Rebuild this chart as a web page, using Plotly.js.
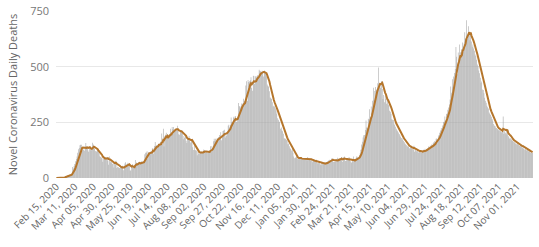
<!DOCTYPE html>
<html>
<head>
<meta charset="utf-8">
<script src="https://cdn.plot.ly/plotly-3.0.1.min.js"></script>
<style>html,body{margin:0;padding:0;background:#fff;}#chart{width:539px;height:247px;}</style>
</head>
<body>
<div id="chart"></div>
<script>
// Daily deaths, first day = Feb 15, 2020
const startDate = '2020-02-15';
const feb20 = [0,0,0,0,2,0,2,1,3,4,4,3,7,8,9];
const mar20 = [11,12,11,15,15,16,21,49,43,54,63,75,85,97,113,129,135,147,149,149,123,129,127,122,143,157,144,139,123,117,141];
const apr20 = [138,124,134,158,151,136,133,121,117,122,125,117,111,98,94,92,89,73,87,91,88,94,90,93,76,60,96,71,80,71];
const may20 = [63,74,47,68,74,78,45,51,48,45,45,48,50,48,55,35,51,65,71,62,51,69,56,58,34,34,57,63,50,47,57];
const jun20 = [81,64,70,59,72,63,63,70,74,75,71,75,71,107,113,115,120,87,116,115,116,119,121,133,134,109,144,162,144,147];
const jul20 = [148,141,154,148,163,160,200,153,221,142,188,194,203,179,195,183,195,188,221,203,229,219,229,215,216,212,216,235,212,196,194];
const aug20 = [208,206,215,212,174,189,181,187,167,157,177,171,189,169,159,168,162,138,126,146,126,125,124,102,119,110,108,115,119,118,113];
const sep20 = [117,128,126,114,116,118,113,116,119,124,143,119,144,134,165,176,166,176,163,179,177,184,193,175,206,170,187,211,213,217];
const oct20 = [182,202,190,207,235,239,227,239,272,251,253,272,276,254,279,253,251,271,337,322,322,317,335,322,335,356,346,346,415,434,346];
const nov20 = [440,431,434,439,452,404,392,459,458,422,457,451,457,461,454,486,482,479,474,482,475,456,483,469,475,457,420,413,410,390];
const dec20 = [362,358,355,340,321,324,321,313,303,289,268,262,254,251,221,227,213,210,199,177,178,175,172,168,152,155,143,134,130,124,134];
const jan21 = [115,96,89,90,94,102,85,84,88,93,89,89,81,85,84,87,84,90,89,79,94,85,84,81,79,85,71,77,79,78,73];
const feb21 = [72,82,66,69,66,69,62,57,73,64,64,61,71,61,69,71,75,79,77,82,80,88,78,89,72,73,74,75];
const mar21 = [85,91,82,87,88,83,80,94,73,93,92,96,76,78,84,88,85,94,88,75,69,73,81,96,82,75,87,96,89,95,90];
const apr21 = [102,111,127,151,163,182,192,193,216,258,227,224,266,263,309,274,321,292,347,405,350,391,409,395,400,425,496,411,420,404];
const may21 = [436,400,355,373,340,369,356,334,350,330,327,302,298,289,264,262,261,245,238,230,221,215,210,204,198,192,185,180,172,178,166];
const jun21 = [160,154,151,147,141,146,139,134,142,133,136,130,128,145,118,126,122,119,128,114,121,117,125,113,119,122,127,118,131,124];
const jul21 = [128,133,129,141,137,146,132,150,143,156,161,165,157,176,177,169,188,193,203,213,224,218,236,251,254,276,258,287,290,307,317];
const aug21 = [330,353,411,383,444,410,456,471,489,588,544,466,564,526,599,564,566,579,608,583,604,655,625,709,639,624,682,646,619,654,613];
const sep21 = [589,599,582,571,555,548,531,510,503,483,470,450,427,433,398,395,381,360,347,338,324,318,312,294,289,283,275,265,258,243];
const oct21 = [236,233,227,225,220,218,215,214,212,209,205,212,276,198,210,203,197,217,196,188,182,176,178,174,169,166,164,160,159,155,152];
const nov21 = [158,151,149,144,146,142,139,136,147,131,128,130,126,124,129,121,118,120,114,116,113,112];

const tickLabels = ['Feb 15, 2020','Mar 11, 2020','Apr 05, 2020','Apr 30, 2020','May 25, 2020','Jun 19, 2020','Jul 14, 2020','Aug 08, 2020','Sep 02, 2020','Sep 27, 2020','Oct 22, 2020','Nov 16, 2020','Dec 11, 2020','Jan 05, 2021','Jan 30, 2021','Feb 24, 2021','Mar 21, 2021','Apr 15, 2021','May 10, 2021','Jun 04, 2021','Jun 29, 2021','Jul 24, 2021','Aug 18, 2021','Sep 12, 2021','Oct 07, 2021','Nov 01, 2021'];
const tickDates = ['2020-02-15','2020-03-11','2020-04-05','2020-04-30','2020-05-25','2020-06-19','2020-07-14','2020-08-08','2020-09-02','2020-09-27','2020-10-22','2020-11-16','2020-12-11','2021-01-05','2021-01-30','2021-02-24','2021-03-21','2021-04-15','2021-05-10','2021-06-04','2021-06-29','2021-07-24','2021-08-18','2021-09-12','2021-10-07','2021-11-01'];

const daily = [].concat(feb20,mar20,apr20,may20,jun20,jul20,aug20,sep20,oct20,nov20,dec20,
  jan21,feb21,mar21,apr21,may21,jun21,jul21,aug21,sep21,oct21,nov21);

function dateStr(i){
  const d = new Date(startDate + 'T00:00:00Z');
  d.setUTCDate(d.getUTCDate() + i);
  return d.toISOString().slice(0,10);
}
const dates = daily.map((v,i)=>dateStr(i));
// 7-day trailing average of the daily values
const avg = daily.map((v,i)=>{
  const s = daily.slice(Math.max(0,i-6), i+1);
  return s.reduce((a,b)=>a+b,0)/s.length;
});

const fontFam = '"Open Sans", "Segoe UI", sans-serif';
const data = [
  {type:'bar', x:dates, y:daily, marker:{color:'#a3a3a3', line:{width:0}}, hoverinfo:'skip'},
  {type:'scatter', mode:'lines', x:dates, y:avg, line:{color:'#b5762c', width:2}, hoverinfo:'skip'}
];
const layout = {
  width:539, height:247,
  margin:{l:56, r:6, t:11, b:69},
  paper_bgcolor:'#fff', plot_bgcolor:'#fff',
  showlegend:false, bargap:0.25,
  font:{family:fontFam, color:'#666', size:10},
  xaxis:{type:'date', range:['2020-02-14 12:00','2021-11-22 12:00'],
    tickmode:'array', tickvals:tickDates, ticktext:tickLabels, tickangle:-45,
    showgrid:false, zeroline:false, showline:false, ticks:'',
    tickfont:{size:10, color:'#666', family:fontFam}},
  yaxis:{range:[0,750], tickvals:[0,250,500,750], showgrid:true, gridcolor:'#e8e8e8',
    zeroline:false, showline:false, ticks:'', ticklabelstandoff:6,
    tickfont:{size:11, color:'#777', family:fontFam},
    title:{text:'Novel Coronavirus Daily Deaths', font:{size:11, color:'#666', family:fontFam}, standoff:10}}
};
Plotly.newPlot('chart', data, layout, {displayModeBar:false, staticPlot:true});
</script>
</body>
</html>
